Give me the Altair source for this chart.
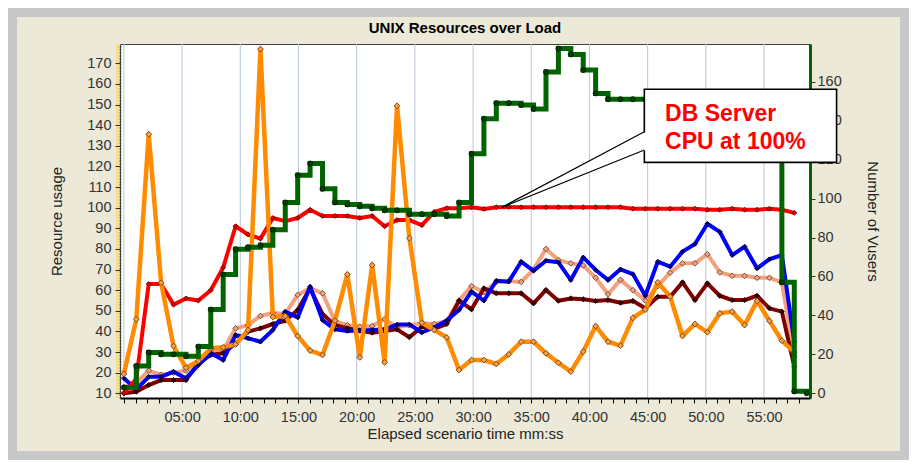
import altair as alt
import pandas as pd

# ---------------- data ----------------
ELAPSED = ["00:00", "01:04", "02:08", "03:12", "04:16", "05:20", "06:24", "07:28",
           "08:32", "09:36", "10:40", "11:44", "12:48", "13:52", "14:56", "16:00",
           "17:04", "18:08", "19:12", "20:16", "21:20", "22:24", "23:28", "24:32",
           "25:36", "26:40", "27:44", "28:48", "29:52", "30:56", "32:00", "33:04",
           "34:08", "35:12", "36:16", "37:20", "38:24", "39:28", "40:32", "41:36",
           "42:40", "43:44", "44:48", "45:52", "46:56", "48:00", "49:04", "50:08",
           "51:12", "52:16", "53:20", "54:24", "55:28", "56:32", "57:36", "58:40"]

RED = [10, 17, 63, 63, 53, 56, 55, 60, 71, 91, 87, 85, 95, 93.5, 95, 99, 96, 96, 96, 95,
       96, 91, 94, 94, 91.5, 98, 99.7, 99.7, 100.2, 99.4, 100.2, 100.3, 100.2, 100.2,
       100.2, 100.2, 100.2, 100.2, 100.2, 100.2, 100.2, 99.5, 99.5, 99.5, 99.5, 99.5,
       99.5, 99, 99, 99.5, 99, 99, 99.5, 99, 97.5]

ORANGE = [19.4, 45.9, 135.6, 63.6, 32.9, 22.4, 25.7, 31.8, 32.3, 33.7, 40.7, 176.9, 47,
          47.5, 37.8, 30.7, 28.6, 45.2, 67.7, 27.4, 72.2, 25, 149.4, 85.2, 44.2, 40.7,
          37.1, 21.3, 26.1, 26.1, 24.2, 28.9, 35, 35, 29.4, 24.8, 20.5, 30.2, 42.6, 35,
          33.1, 46.6, 50.6, 63.8, 56.9, 37.8, 43.6, 39.6, 48.8, 49.6, 43.1, 54.8, 45.1,
          35.5, 30]

BLUE = [17.3, 11.9, 18, 18, 20.5, 17.3, 23.7, 29.4, 26.1, 38.3, 36.7, 35, 40.7, 49.6,
        46.8, 61.7, 45.5, 41, 40.2, 40.5, 40.7, 41, 43.3, 43.4, 39.5, 41.9, 45.3, 50.4,
        59.3, 54.9, 64.6, 64.1, 73.8, 69.4, 74.3, 73.5, 64.9, 75.9, 69.8, 64.9, 70.1,
        67.8, 57.3, 73.8, 71.4, 78.7, 82.4, 92.2, 88.3, 77, 81.1, 70.6, 75, 77, 35]

MAROON = [10, 10.8, 14, 16.4, 16.4, 16.4, 24.5, 28.6, 29.4, 34.2, 39.9, 41.5, 43.6, 45.2,
          50.4, 60.9, 48.4, 43.1, 41.5, 40.3, 39.4, 40.2, 41, 37.2, 42.3, 41.2, 43.6,
          54.9, 50.7, 60.9, 58.5, 58.5, 58.5, 53.6, 60.1, 54.9, 56, 55.6, 54.8, 55.2,
          53.9, 54.8, 51.2, 56.8, 56.8, 63.8, 55.2, 63.3, 57.3, 55.2, 55.2, 57.3, 51.2,
          49.6, 23]

SALMON = [13, 15, 21, 19, 20, 21, 25, 30, 31, 41.5, 43, 47.5, 49, 48.5, 57.7, 61, 58.5,
          45, 43, 42.3, 42.6, 46, 42, 43, 44, 43.6, 45, 55, 62, 59, 64, 64.5, 64, 70, 80,
          74.6, 73, 72, 66, 58, 65, 60, 55, 62, 68.5, 73, 73, 77.5, 68.6, 67, 67, 66, 66,
          63.8, 28]

VUSERS = [3, 14, 21, 20, 20, 19, 24, 43, 61, 74, 75, 76, 84, 98, 112, 118, 105, 98, 97,
          96, 95, 94, 94, 92, 92, 92, 91, 98, 123, 141, 149, 149, 148, 146, 165, 177, 174,
          166, 154, 151, 151, 151, 151, 151, 151, 151, 151, 151, 151, 151, 151, 151, 151,
          57, 1, 0]

GRID_MIN = [0, 5, 10, 15, 20, 25, 30, 35, 40, 45, 50, 55]
TICK_MIN = [0, 1, 2, 3, 4, 5, 6, 7, 8, 9, 10, 11, 12, 13, 14, 15, 16, 17, 18, 19, 20, 21,
            22, 23, 24, 25, 26, 27, 28, 29, 30, 31, 32, 33, 34, 35, 36, 37, 38, 39, 40,
            41, 42, 43, 44, 45, 46, 47, 48, 49, 50, 51, 52, 53, 54, 55, 56, 57, 58]
LEFT_TICKS = [10, 20, 30, 40, 50, 60, 70, 80, 90, 100, 110, 120, 130, 140, 150, 160, 170]
RIGHT_TICKS = [0, 20, 40, 60, 80, 100, 120, 140, 160]

TITLE = "UNIX Resources over Load"
CALLOUT_LINES = ["DB Server", "CPU at 100%"]

# ---------------- helpers ----------------
def to_sec(s):
    m, ss = s.split(":")
    return int(m) * 60 + int(ss)

T = [to_sec(s) for s in ELAPSED]

FONT = "Liberation Sans"
X_SCALE = alt.Scale(domain=[-20, 3537], nice=False, zero=False)
YL_SCALE = alt.Scale(domain=[7.72, 179.36], nice=False, zero=False)
YR_SCALE = alt.Scale(domain=[-2.41, 179.36], nice=False, zero=False)

X_AXIS = alt.Axis(
    title="Elapsed scenario time mm:ss", values=[m * 60 for m in TICK_MIN],
    labelExpr="datum.value > 0 && datum.value % 300 == 0 ? (datum.value < 600 ? '0' : '') + (datum.value / 60) + ':00' : ''",
    grid=False, labelOverlap=False, labelFlush=False, tickSize=5, tickColor="#000",
    domainColor="#000", domainWidth=2, labelFont=FONT, labelFontSize=14.5, labelColor="#333",
    labelPadding=7, titleFont=FONT, titleFontSize=15, titleFontWeight="normal",
    titleColor="#222", titlePadding=3, zindex=1)

YL_AXIS = alt.Axis(
    title="Resource usage", orient="left", values=LEFT_TICKS, grid=False, tickSize=5,
    tickColor="#333", domainColor="#444", domainDash=[1, 2], domainWidth=2,
    labelFont=FONT, labelFontSize=14.5, labelColor="#333", labelPadding=4,
    titleFont=FONT, titleFontSize=15, titleFontWeight="normal", titleColor="#222",
    titlePadding=22, zindex=1)

YR_AXIS = alt.Axis(
    title="Number of Vusers", orient="right", values=RIGHT_TICKS, grid=False, tickSize=5,
    tickColor="#333", domainColor="#006400", domainWidth=3,
    labelFont=FONT, labelFontSize=14.5, labelColor="#333", labelPadding=2,
    titleFont=FONT, titleFontSize=15, titleFontWeight="normal", titleColor="#222",
    titlePadding=23, zindex=0)

ONE = pd.DataFrame({"a": [0]})


def xenc(field="t"):
    return alt.X(f"{field}:Q", scale=X_SCALE, axis=X_AXIS)


def series(vals, color, pfill, pstroke, width, size):
    df = pd.DataFrame({"t": T[:len(vals)], "v": vals})
    base = alt.Chart(df).encode(x=xenc(), y=alt.Y("v:Q", scale=YL_SCALE, axis=YL_AXIS))
    line = base.mark_line(color=color, strokeWidth=width, strokeJoin="round")
    pts = base.mark_point(shape="diamond", filled=True, fill=pfill, stroke=pstroke,
                          strokeWidth=0.8, size=size, opacity=1)
    return [line, pts]


# decoration: gray frame round the panel, yellow band on left axis, title text
frame = alt.Chart(ONE).mark_rect(fill="transparent", stroke="#C8C8C8", strokeWidth=9).encode(
    x=alt.value(-107.5), x2=alt.value(784.5), y=alt.value(-31.5), y2=alt.value(411.5))
yellow = alt.Chart(ONE).mark_rule(color="#F3E08E", strokeWidth=4).encode(
    x=alt.value(-2), y=alt.value(0), y2=alt.value(354))
title = alt.Chart(pd.DataFrame({"label": [TITLE]})).mark_text(
    font=FONT, fontSize=15, fontWeight="bold", color="#000", align="center",
    baseline="middle").encode(x=alt.value(345), y=alt.value(-16), text="label:N")

grid = alt.Chart(pd.DataFrame({"t": [m * 60 for m in GRID_MIN]})).mark_rule(
    color="#B7C7DB", strokeWidth=1).encode(x=xenc())

left_layers = [frame, yellow, title, grid]
left_layers += series(SALMON, "#F2A27E", "#F2A27E", "#5A3A2A", 4, 32)
left_layers += series(MAROON, "#800000", "#3A0000", "#200000", 4, 26)
left_layers += series(BLUE, "#0000FF", "#00006A", "#000040", 4, 22)
left_layers += series(RED, "#FF0000", "#E00000", "#500000", 4, 24)
left_layers += series(ORANGE, "#FF8C00", "#F7A048", "#5A3410", 4.5, 34)
left = alt.layer(*left_layers)

# right axis group: Vusers + callout
gdf = pd.DataFrame({"t": T[:len(VUSERS)], "u": VUSERS})
gbase = alt.Chart(gdf).encode(x=xenc(), y=alt.Y("u:Q", scale=YR_SCALE, axis=YR_AXIS))
gline = gbase.mark_line(color="#006400", strokeWidth=5, interpolate="step-after")
gpts = gbase.mark_point(shape="circle", filled=True, fill="#004000", stroke="#001800",
                        strokeWidth=0.8, size=26, opacity=1)

box_df = pd.DataFrame({"t": [2683], "t2": [3674], "u": [156.1], "u2": [118.6]})
box = alt.Chart(box_df).mark_rect(fill="white", stroke="black", strokeWidth=1.6).encode(
    x=xenc(), x2="t2:Q", y=alt.Y("u:Q", scale=YR_SCALE, axis=YR_AXIS), y2="u2:Q")

wedge_df = pd.DataFrame({"t": [1948, 2692], "u": [95.5, 134.3], "u2": [95.5, 124.9]})
wedge = alt.Chart(wedge_df).mark_area(color="white", opacity=1).encode(
    x=xenc(), y=alt.Y("u:Q", scale=YR_SCALE, axis=YR_AXIS), y2="u2:Q")

edge_df = pd.DataFrame({"t": [1948, 1948], "t2": [2683, 2683], "u": [95.5, 95.5],
                        "u2": [134.3, 124.9]})
edges = alt.Chart(edge_df).mark_rule(color="black", strokeWidth=1.2).encode(
    x=xenc(), x2="t2:Q", y=alt.Y("u:Q", scale=YR_SCALE, axis=YR_AXIS), y2="u2:Q")

txt_df = pd.DataFrame({"t": [2790, 2790], "u": [143.3, 129.2], "label": CALLOUT_LINES})
txt = alt.Chart(txt_df).mark_text(align="left", baseline="middle", font=FONT, fontSize=23,
                                  fontWeight="bold", color="#FF0000").encode(
    x=xenc(), y=alt.Y("u:Q", scale=YR_SCALE, axis=YR_AXIS), text="label:N")

right = alt.layer(gline, gpts, box, wedge, edges, txt)

chart = alt.layer(left, right).resolve_scale(y="independent").properties(
    width=690, height=354,
    autosize=alt.AutoSizeParams(type="none"),
    padding={"left": 112, "top": 36, "right": 99, "bottom": 62},
).configure(background="#ECE9D8").configure_view(fill="white", stroke="#404040", strokeWidth=1)

chart.save("out.html", embed_options={"renderer": "svg", "actions": False})
